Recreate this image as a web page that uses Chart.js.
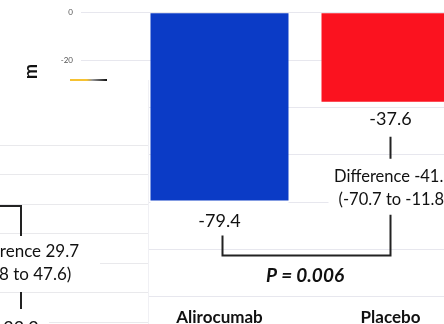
<!DOCTYPE html>
<html>
<head>
<meta charset="utf-8">
<script src="https://cdn.jsdelivr.net/npm/chart.js@4.4.1/dist/chart.umd.min.js"></script>
<style>
  html, body { margin: 0; padding: 0; background: #fff; overflow: hidden; }
  #stage { position: relative; width: 444px; height: 324px; overflow: hidden; background: #fff; }
  #lcbiCanvas { position: absolute; left: 0; top: 0; }
  #inset { position: absolute; left: 0; top: 80px; width: 148px; height: 244px; overflow: hidden;
           background: #fff; border-right: 1px solid #f0f0f4; }
  #fctCanvas { position: absolute; left: -370px; top: -80px; }
  #insetEdge { position: absolute; left: 70px; top: 79px; width: 37px; height: 2px;
               background: linear-gradient(to right, #f6c232 0 45%, #9a9a9a 60%, #111 100%); }
</style>
</head>
<body>
<div id="stage">
  <canvas id="lcbiCanvas" width="476" height="339"></canvas>
  <div id="inset"><canvas id="fctCanvas" width="520" height="460"></canvas></div>
  <div id="insetEdge"></div>
</div>
<script>
// Change in maxLCBI4mm (main panel)
const categories = ['Alirocumab', 'Placebo'];
const lcbiChange = [-79.4, -37.6];
const lcbiDifference = '-41.2';
const lcbiInterval = ['-70.7', '-11.8'];
const lcbiPValue = '0.006';
const lcbiAxis = { min: -120, max: 0, step: 20 };
const lcbiTitle = 'Change in maxLCBI4mm';

// Change in fibrous cap thickness (panel partly covered on the left)
const fctChange = [62.7, 33.2];
const fctDifference = '29.7';
const fctInterval = ['11.8', '47.6'];
const fctAxis = { min: 0, max: 100, step: 10 };

Chart.defaults.font.family = 'Lato, "Open Sans", sans-serif';
Chart.defaults.color = '#111';

const fmt = v => v.toFixed(1);

const lcbiNotes = {
  id: 'lcbiNotes',
  afterDatasetsDraw(chart) {
    const { ctx, scales: { x, y } } = chart;
    const bars = chart.getDatasetMeta(0).data;
    const xa = x.getPixelForValue(0), xp = x.getPixelForValue(1);
    const ya = y.getPixelForValue(lcbiChange[0]);
    const yp = y.getPixelForValue(lcbiChange[1]);
    const half = bars[0].width / 2;
    ctx.save();
    ctx.fillStyle = '#fff';
    ctx.fillRect(xa - half, ya + 1, half * 2, 32);
    ctx.fillRect(xp - 62, yp + 60, 150, 52);
    ctx.fillStyle = '#111';
    ctx.textAlign = 'center';
    ctx.textBaseline = 'middle';
    ctx.font = '18px Lato';
    ctx.fillText(fmt(lcbiChange[0]), xa, ya + 21);
    ctx.fillText(fmt(lcbiChange[1]), xp, yp + 17.5);
    ctx.font = '16.5px Lato';
    ctx.fillText('Difference ' + lcbiDifference, xp + 3, yp + 74.5);
    ctx.fillText('(' + lcbiInterval[0] + ' to ' + lcbiInterval[1] + ')', xp + 3, yp + 97.5);
    ctx.strokeStyle = '#222';
    ctx.lineWidth = 2;
    ctx.beginPath();
    ctx.moveTo(xp, yp + 35); ctx.lineTo(xp, yp + 57);
    ctx.moveTo(xa + 3, ya + 35); ctx.lineTo(xa + 3, ya + 55);
    ctx.lineTo(xp, ya + 55); ctx.lineTo(xp, yp + 113);
    ctx.stroke();
    ctx.font = 'italic bold 19px Lato';
    ctx.fillText('P = ' + lcbiPValue, (xa + xp) / 2, ya + 75);
    ctx.restore();
  },
  afterDraw(chart) {
    // rotated y-axis title, ending near the top of the plot
    const { ctx, chartArea } = chart;
    ctx.save();
    ctx.translate(chartArea.left - 103, chartArea.top + 51);
    ctx.rotate(-Math.PI / 2);
    ctx.font = 'bold 18px Lato';
    ctx.fillStyle = '#111';
    ctx.textAlign = 'right';
    ctx.textBaseline = 'middle';
    ctx.fillText(lcbiTitle, 0, 0);
    ctx.restore();
  }
};

const fctNotes = {
  id: 'fctNotes',
  afterDatasetsDraw(chart) {
    const { ctx, scales: { x, y } } = chart;
    const xa = x.getPixelForValue(0), xp = x.getPixelForValue(1);
    const yp = y.getPixelForValue(fctChange[1]);
    ctx.save();
    ctx.fillStyle = '#fff';
    ctx.fillRect(xp - 100, yp - 101, 179, 45);
    ctx.fillRect(xp - 40, yp - 26, 68, 30);
    ctx.fillStyle = '#111';
    ctx.textAlign = 'center';
    ctx.textBaseline = 'middle';
    ctx.font = '17px Lato';
    ctx.fillText('Difference ' + fctDifference, xp, yp - 90.5);
    ctx.fillText('(' + fctInterval[0] + ' to ' + fctInterval[1] + ')', xp, yp - 67.5);
    ctx.font = '18px Lato';
    ctx.fillText(fmt(fctChange[1]), xp, yp - 14);
    ctx.strokeStyle = '#222';
    ctx.lineWidth = 2;
    ctx.beginPath();
    ctx.moveTo(xp, yp - 50); ctx.lineTo(xp, yp - 33);
    ctx.moveTo(xa, yp - 136); ctx.lineTo(xp, yp - 136); ctx.lineTo(xp, yp - 106);
    ctx.stroke();
    ctx.restore();
  }
};

new Chart(document.getElementById('lcbiCanvas'), {
  type: 'bar',
  data: {
    labels: categories,
    datasets: [{
      data: lcbiChange,
      backgroundColor: ['#0b3bc6', '#fb121f'],
      borderWidth: 0,
      barPercentage: 0.807,
      categoryPercentage: 1
    }]
  },
  options: {
    responsive: false,
    devicePixelRatio: 1,
    animation: false,
    layout: { padding: { top: 11, left: 24, right: 0, bottom: 0 } },
    plugins: { legend: { display: false }, tooltip: { enabled: false } },
    scales: {
      x: {
        grid: { display: false, drawTicks: false },
        border: { display: false },
        ticks: { font: { size: 17, weight: 'bold' }, color: '#111', padding: 11 }
      },
      y: {
        min: lcbiAxis.min,
        max: lcbiAxis.max,
        ticks: { stepSize: lcbiAxis.step, font: { size: 8 }, color: '#555', padding: 8 },
        grid: { color: '#e7e7ee', tickLength: 53, tickColor: '#e7e7ee' },
        border: { display: false },
        afterFit: s => { s.width = 110; }
      }
    }
  },
  plugins: [lcbiNotes]
});

new Chart(document.getElementById('fctCanvas'), {
  type: 'bar',
  data: {
    labels: categories,
    datasets: [{
      data: fctChange,
      backgroundColor: ['#0b3bc6', '#fb121f'],
      borderWidth: 0,
      barPercentage: 0.807,
      categoryPercentage: 1
    }]
  },
  options: {
    responsive: false,
    devicePixelRatio: 1,
    animation: false,
    layout: { padding: { top: 145, left: 4, right: 0, bottom: 20 } },
    plugins: { legend: { display: false }, tooltip: { enabled: false } },
    scales: {
      x: { display: false },
      y: {
        min: fctAxis.min,
        max: fctAxis.max,
        ticks: { display: false, stepSize: fctAxis.step },
        grid: { color: '#e9e9ec', drawTicks: false },
        border: { display: false }
      }
    }
  },
  plugins: [fctNotes]
});
</script>
</body>
</html>
